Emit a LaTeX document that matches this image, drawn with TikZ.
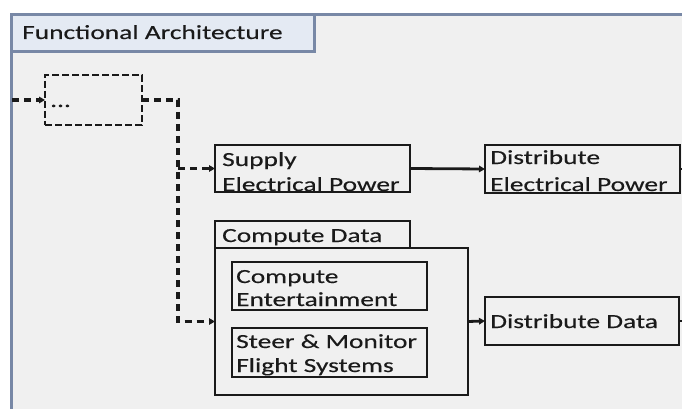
\documentclass[tikz,border=0pt]{standalone}
\usepackage{fontspec}
\setmainfont{Carlito}[FakeStretch=1.37,FakeBold=0.3]
\usetikzlibrary{arrows.meta}
\definecolor{bg}{HTML}{F0F0F0}
\definecolor{framec}{HTML}{7888A6}
\definecolor{tabfill}{HTML}{E4EAF3}
\definecolor{ink}{HTML}{1A1A1A}
\begin{document}
\begin{tikzpicture}[x=1pt,y=-1pt,
 fbox/.style={draw=ink, line width=2.6pt, inner sep=0pt, outer sep=0pt, anchor=north west},
 dbox/.style={fbox, dash pattern=on 7pt off 3pt, line width=2.8pt},
 txt/.style={font=\fontsize{20}{24}\selectfont, text=ink, inner sep=0pt, anchor=base west},
 conn/.style={draw=ink, line width=2.8pt, -{Triangle[length=6pt,width=6.5pt]}},
 dconn/.style={conn, line width=3.2pt, dash pattern=on 7pt off 5pt},
 stub/.style={draw=ink, line width=2.8pt},
]
\useasboundingbox (0,0) rectangle (682,409);
\clip (0,0) rectangle (682,409);
\fill[white] (0,0) rectangle (682,409);
% frame and title tab
\node[draw=framec, fill=bg, line width=2.6pt, minimum width=700, minimum height=420, anchor=north west, inner sep=0pt] (frame) at (10,13) {};
\node[draw=framec, fill=tabfill, line width=2.6pt, minimum width=303, minimum height=37, anchor=north west, inner sep=0pt] (tab) at (10,13) {};
\node[txt] (ttitle) at (22,39) {Functional Architecture};
% boxes
\node[dbox, minimum width=97, minimum height=50] (dots) at (45,75) {};
\node[txt] (tdots) at (50,107) {...};
\node[fbox, minimum width=195, minimum height=47] (sup) at (215,145) {};
\node[txt] (tsup1) at (222,166) {Supply};
\node[txt] (tsup2) at (222,191) {Electrical Power};
\node[fbox, minimum width=195, minimum height=48] (dep) at (485,145) {};
\node[txt] (tdep1) at (490,164) {Distribute};
\node[txt] (tdep2) at (490,191) {Electrical Power};
\node[fbox, minimum width=195, minimum height=27] (cdtab) at (215,221) {};
\node[txt] (tcd) at (222,242) {Compute Data};
\node[fbox, minimum width=253, minimum height=147] (cd) at (215,248) {};
\node[fbox, minimum width=195, minimum height=48] (ce) at (232,262) {};
\node[txt] (tce1) at (236,283) {Compute};
\node[txt] (tce2) at (236,306) {Entertainment};
\node[fbox, minimum width=195, minimum height=49] (sm) at (232,328) {};
\node[txt] (tsm1) at (236,348) {Steer \& Monitor};
\node[txt] (tsm2) at (236,372) {Flight Systems};
\node[fbox, minimum width=194, minimum height=48] (dd) at (485,297) {};
\node[txt] (tdd) at (490,328) {Distribute Data};
% connectors
\coordinate (in) at (12,100);
\coordinate (j1) at (178,100);
\draw[dconn] (in) -- (dots.west);
\draw[dconn] (dots.east) -- (j1) -- (j1 |- cd.west) -- (cd.west);
\draw[dconn] (j1 |- sup.west) -- (sup.west);
\draw[conn] (sup.east) -- (dep.west);
\draw[conn] (cd.east) -- (dd.west);
\coordinate (o1) at (695,169);
\coordinate (o2) at (695,321);
\draw[stub] (dep.east) -- (o1);
\draw[stub] (dd.east) -- (o2);
\end{tikzpicture}
\end{document}
